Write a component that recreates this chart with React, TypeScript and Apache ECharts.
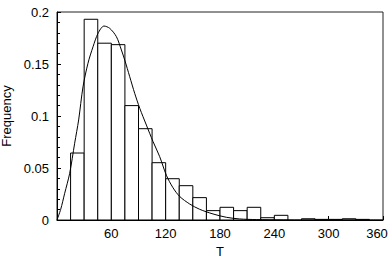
import React, { useEffect, useRef } from "react";
import * as echarts from "echarts";

const binStarts = [15, 30, 45, 60, 75, 90, 105, 120, 135, 150, 165, 180, 195, 210, 225, 240, 255, 270, 285, 300, 315, 330];
const binWidth = 15;
const binFreq = [0.0644, 0.193, 0.170, 0.1686, 0.110, 0.0878, 0.0551, 0.0397, 0.033, 0.0215, 0.009, 0.0122, 0.009, 0.0122, 0.0022, 0.0045, 0, 0.0012, 0.0006, 0.0006, 0.0012, 0.0006];

const curveT = [0, 4.1, 8.5, 14, 19.5, 23.9, 28.7, 34.2, 39.8, 45.3, 51.9, 58.2, 65.6, 71.1, 74.8, 80.3, 85.8, 91.4, 98.7, 106, 113.4, 120.8, 128.1, 135.5, 146.5, 157.5, 172.3, 187, 201.7, 220, 250, 300, 360];
const curveFreq = [0, 0.0103, 0.0257, 0.0449, 0.0738, 0.0962, 0.128, 0.1507, 0.1666, 0.1795, 0.1865, 0.1843, 0.1763, 0.1635, 0.1538, 0.1378, 0.1218, 0.1074, 0.0913, 0.0755, 0.0609, 0.0430, 0.0310, 0.0226, 0.0154, 0.0103, 0.0058, 0.0026, 0.001, 0.0004, 0.0001, 0, 0];

const xTicks = { min: 0, max: 360, interval: 60 };
const yTicks = { min: 0, max: 0.2, interval: 0.05 };

const FONT = "'Liberation Sans', Arial, Helvetica, sans-serif";
const FS = 13;

export default function App() {
  const ref = useRef<HTMLDivElement>(null);
  useEffect(() => {
    document.body.style.margin = "0";
    const chart = echarts.init(ref.current!, null, { renderer: "svg" });
    const histData = binStarts.map((s, i) => [s, s + binWidth, binFreq[i]]);
    const lineData = curveT.map((t, i) => [t, curveFreq[i]]);
    chart.setOption({
      animation: false,
      backgroundColor: "#fff",
      grid: {
        left: 57,
        right: 9,
        top: 12,
        bottom: 44,
        containLabel: false,
        outerBoundsMode: "none",
        show: true,
        borderColor: "#222",
        borderWidth: 1,
        backgroundColor: "transparent",
      },
      xAxis: {
        type: "value",
        min: xTicks.min,
        max: xTicks.max,
        interval: xTicks.interval,
        name: "T",
        nameLocation: "middle",
        nameGap: 24,
        nameTextStyle: { color: "#000", fontSize: FS, fontFamily: FONT },
        axisLine: { show: true, lineStyle: { color: "#000", width: 1 } },
        axisTick: { show: true, inside: true, length: 4, lineStyle: { color: "#000" } },
        axisLabel: {
          color: "#000",
          fontSize: FS,
          fontFamily: FONT,
          margin: 7,
          formatter: (v: number) => (v === 0 ? "" : v === xTicks.max ? "{r|" + v + "}" : String(v)),
          rich: { r: { fontSize: FS, fontFamily: FONT, color: "#000", padding: [0, 12, 0, 0] } },
        },
        splitLine: { show: false },
      },
      yAxis: {
        type: "value",
        min: yTicks.min,
        max: yTicks.max,
        interval: yTicks.interval,
        name: "Frequency",
        nameLocation: "middle",
        nameGap: 32,
        nameTextStyle: { color: "#000", fontSize: FS, fontFamily: FONT },
        axisLine: { show: true, lineStyle: { color: "#000", width: 1 } },
        axisTick: { show: true, inside: true, length: 4, lineStyle: { color: "#000" } },
        minorTick: { show: true, splitNumber: 5, length: 3, lineStyle: { color: "#000" } },
        axisLabel: {
          color: "#000",
          fontSize: FS,
          fontFamily: FONT,
          margin: 8,
        },
        splitLine: { show: false },
      },
      series: [
        {
          type: "custom",
          data: histData,
          encode: { x: [0, 1], y: 2 },
          renderItem: (params: any, api: any) => {
            const s = api.value(0);
            const e = api.value(1);
            const v = api.value(2);
            if (!v) return null;
            const p0 = api.coord([s, v]);
            const p1 = api.coord([e, 0]);
            return {
              type: "rect",
              shape: { x: p0[0], y: p0[1], width: p1[0] - p0[0], height: p1[1] - p0[1] },
              style: { fill: "#fff", stroke: "#000", lineWidth: 1 },
            };
          },
          z: 2,
        },
        {
          type: "line",
          data: lineData,
          smooth: 0.3,
          showSymbol: false,
          lineStyle: { color: "#000", width: 1 },
          z: 3,
        },
      ],
    });
    return () => chart.dispose();
  }, []);
  return <div ref={ref} style={{ width: 392, height: 264 }} />;
}
